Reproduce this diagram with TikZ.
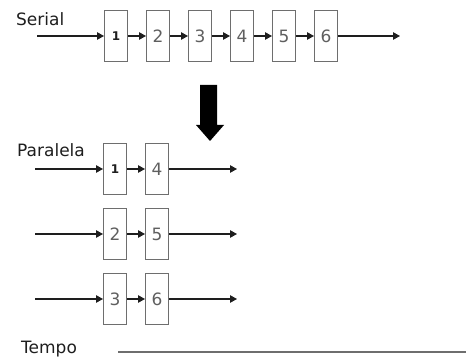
\documentclass[tikz,border=0pt]{standalone}
\usepackage{fontspec}
\setmainfont{DejaVu Sans}
\usetikzlibrary{positioning,arrows.meta}
\definecolor{boxgray}{RGB}{110,110,110}
\definecolor{digitgray}{RGB}{95,95,95}
\definecolor{inkgray}{RGB}{30,30,30}
\tikzset{
  task-box/.style={draw=boxgray, line width=1pt, minimum width=23pt, minimum height=51pt,
    inner sep=0pt, font=\fontsize{17}{17}\selectfont, text=digitgray},
  first-box/.style={task-box, font=\fontsize{12}{12}\selectfont\bfseries, text=inkgray},
  flow-arrow/.style={-{Triangle[length=7pt,width=7.5pt]}, line width=1.2pt, draw=inkgray},
  row-label/.style={anchor=base west, inner sep=0pt, font=\fontsize{17}{17}\selectfont, text=inkgray},
  time-line/.style={draw=boxgray, line width=1.3pt}
}

\begin{document}
\begin{tikzpicture}[x=1pt, y=-1pt, node distance=18pt]
\useasboundingbox (0,0) rectangle (466,358);

% Serial execution
\node[row-label] (serial) at (16,26) {Serial};
\node[first-box] (s1) at (116,36) {1};
\node[task-box, right=of s1] (s2) {2};
\node[task-box, right=of s2] (s3) {3};
\node[task-box, right=of s3] (s4) {4};
\node[task-box, right=of s4] (s5) {5};
\node[task-box, right=of s5] (s6) {6};
\coordinate (sin) at (37,36);
\coordinate (sout) at (400,36);
\draw[flow-arrow] (sin) -- (s1);
\draw[flow-arrow] (s1) -- (s2);
\draw[flow-arrow] (s2) -- (s3);
\draw[flow-arrow] (s3) -- (s4);
\draw[flow-arrow] (s4) -- (s5);
\draw[flow-arrow] (s5) -- (s6);
\draw[flow-arrow] (s6) -- (sout);

% Big down arrow
\fill[black] (200,85) -- (217,85) -- (217,125) -- (224,125) -- (210,141)
  -- (196,125) -- (200,125) -- cycle;

% Parallel execution
\node[row-label] (paralela) at (17,157) {Paralela};
\node[first-box] (p1) at (115,169) {1};
\node[task-box, right=of p1] (p4) {4};
\node[task-box] (p2) at (115,234) {2};
\node[task-box, right=of p2] (p5) {5};
\node[task-box] (p3) at (115,299) {3};
\node[task-box, right=of p3] (p6) {6};
\coordinate (pin1) at (35,169);
\coordinate (pout1) at (237,169);
\coordinate (pin2) at (35,234);
\coordinate (pout2) at (237,234);
\coordinate (pin3) at (35,299);
\coordinate (pout3) at (237,299);
\draw[flow-arrow] (pin1) -- (p1);
\draw[flow-arrow] (p1) -- (p4);
\draw[flow-arrow] (p4) -- (pout1);
\draw[flow-arrow] (pin2) -- (p2);
\draw[flow-arrow] (p2) -- (p5);
\draw[flow-arrow] (p5) -- (pout2);
\draw[flow-arrow] (pin3) -- (p3);
\draw[flow-arrow] (p3) -- (p6);
\draw[flow-arrow] (p6) -- (pout3);

% Time axis
\node[row-label] (tempo) at (21,353) {Tempo};
\coordinate (tstart) at (118,352);
\coordinate (tend) at (466,352);
\draw[time-line] (tstart) -- (tend);
\end{tikzpicture}
\end{document}
